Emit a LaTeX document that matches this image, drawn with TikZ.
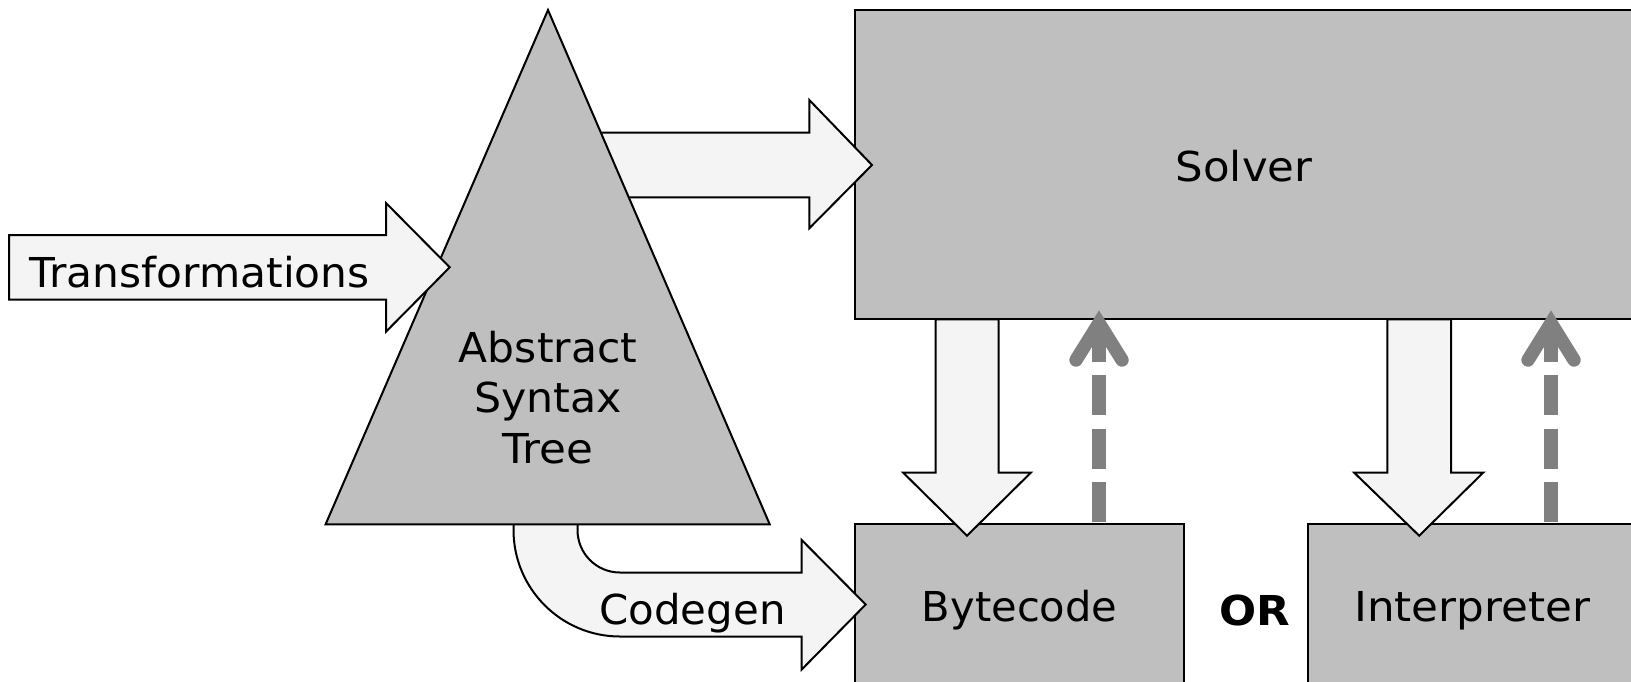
\documentclass[tikz,border=0pt]{standalone}
\usepackage{fontspec}
\setmainfont{DejaVu Sans}
\definecolor{boxgray}{RGB}{191,191,191}
\definecolor{arrowfill}{RGB}{244,244,244}
\definecolor{dashgray}{RGB}{128,128,128}
\begin{document}
\begin{tikzpicture}[x=0.5pt,y=-0.5pt,
  box/.style={draw=black, line width=1pt, fill=boxgray, inner sep=0pt, outer sep=0pt},
  blockarrow/.style={draw=black, line width=1pt, fill=arrowfill, line join=miter},
  lbl/.style={font=\fontsize{20.6pt}{24.7pt}\selectfont\addfontfeature{FakeStretch=#1}, inner sep=0pt, anchor=base},
  lbl/.default=1.0,
  boldlbl/.style={font=\fontsize{20.6pt}{24.7pt}\selectfont\bfseries\addfontfeature{FakeStretch=#1}, inner sep=0pt, anchor=base},
  dashconn/.style={draw=dashgray, line width=6.67pt, dash pattern=on 20pt off 6.67pt},
  dashhead/.style={draw=dashgray, line width=6.67pt, line cap=round, line join=miter}]
\useasboundingbox (0,0) rectangle (1631,681);
\clip (0,0) rectangle (1631,681);

% boxes
\node[box, minimum width=391pt, minimum height=154.45pt] (solver) at (1246,164.85) {};
\node[box, minimum width=164.5pt, minimum height=82.85pt] (bytecode) at (1019.5,607.15) {};
\node[box, minimum width=164.7pt, minimum height=82.85pt] (interp) at (1472.3,607.15) {};

% AST -> Solver block arrow (under the triangle)
\path[blockarrow] (560,132.7) -- (809.3,132.7) -- (809.3,100) -- (872,165)
  -- (809.3,228.3) -- (809.3,197.3) -- (560,197.3) -- cycle;

% Codegen block arrow
\path[blockarrow] (513.5,524) -- (513.5,530) .. controls (513.5,588.8) and (561.2,636.5) .. (620,636.5)
  -- (801.7,636.5) -- (801.7,669.5) -- (865.7,604.5) -- (801.7,540) -- (801.7,572.5)
  -- (620,572.5) .. controls (596.5,572.5) and (577.5,553.5) .. (577.5,530) -- (577.5,524);

% Abstract syntax tree triangle
\coordinate (apex) at (548,10);
\coordinate (astR) at (769.7,524.3);
\coordinate (astL) at (325.6,524.3);
\path[box, line join=miter] (apex) -- (astR) -- (astL) -- cycle;
\node[lbl=1.03] (ast1) at (548,362.5) {Abstract};
\node[lbl=1.037] (ast2) at (548,412.5) {Syntax};
\node[lbl=1.06] (ast3) at (548,463) {Tree};

% Transformations block arrow
\path[blockarrow] (9,235) -- (386,235) -- (386,203) -- (449.7,267.3) -- (386,331.7)
  -- (386,299.5) -- (9,299.5) -- cycle;
\node[lbl=1.028] (trans) at (199.7,287.3) {Transformations};

% Solver -> Bytecode / Interpreter block arrows
\path[blockarrow] (935.5,319.3) -- (935.5,472.5) -- (903,472.5) -- (967,535.7) -- (1031,472.5)
  -- (998.5,472.5) -- (998.5,319.3) -- cycle;
\path[blockarrow] (1387.3,319.3) -- (1387.3,472.5) -- (1354,472.5) -- (1419.2,535.7) -- (1483.3,472.5)
  -- (1451,472.5) -- (1451,319.3) -- cycle;

% dashed feedback connectors
\coordinate (bcout) at (1099,522);
\coordinate (svin1) at (1099,323);
\coordinate (svin1l) at (1076,360);
\coordinate (svin1r) at (1122,360);
\draw[dashconn] (bcout) -- (1099,326);
\draw[dashhead] (svin1l) -- (svin1) -- (svin1r);
\coordinate (itout) at (1551,522);
\coordinate (svin2) at (1551,323);
\coordinate (svin2l) at (1528,360);
\coordinate (svin2r) at (1574,360);
\draw[dashconn] (itout) -- (1551,326);
\draw[dashhead] (svin2l) -- (svin2) -- (svin2r);

% labels
\node[lbl=1.055] (solverlbl) at (1244,181.7) {Solver};
\node[lbl=1.017] (codegenlbl) at (692.5,624) {Codegen};
\node[lbl=1.01] (bytelbl) at (1019.7,621.7) {Bytecode};
\node[lbl=1.06] (interplbl) at (1472.2,621.7) {Interpreter};
\node[boldlbl=1.06] (orlbl) at (1254.5,625) {OR};
\end{tikzpicture}
\end{document}
